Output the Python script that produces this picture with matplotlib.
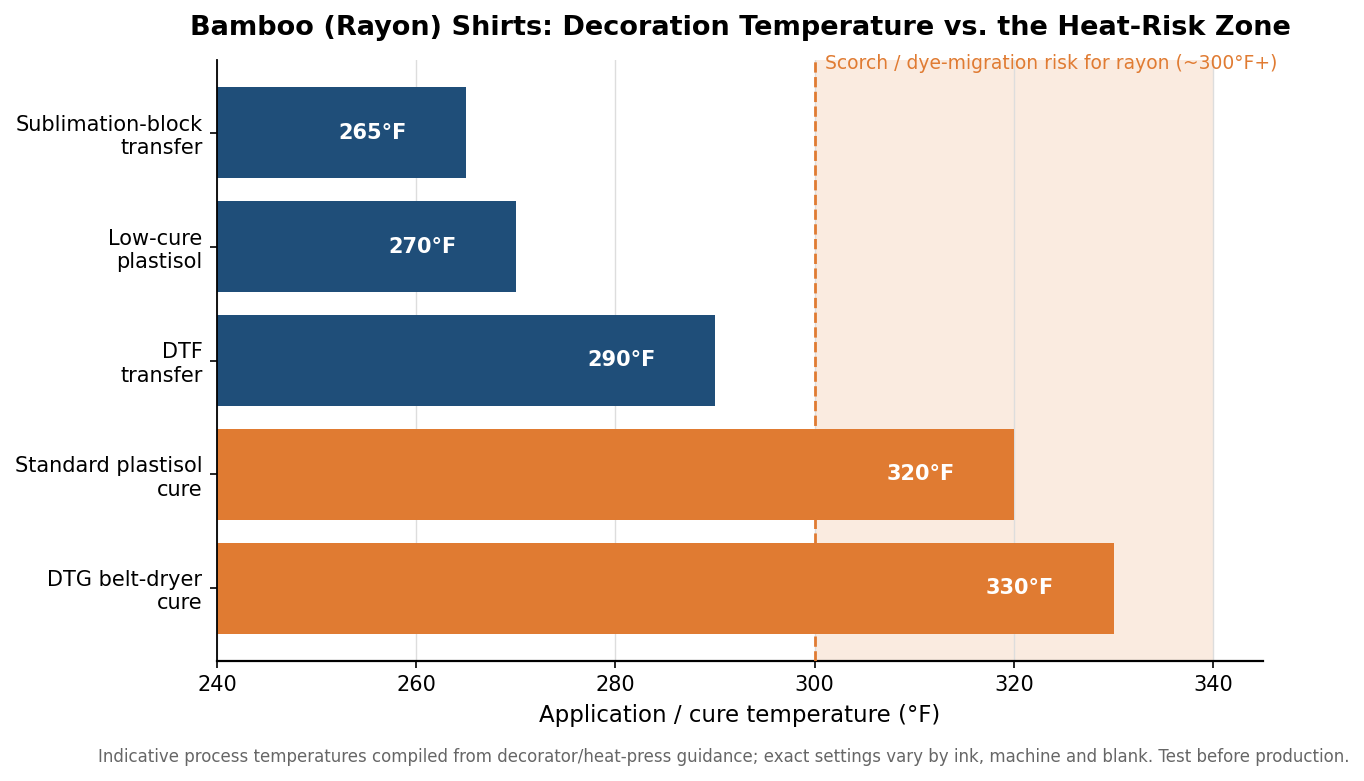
import matplotlib
matplotlib.use("Agg")
import matplotlib.pyplot as plt
import matplotlib.transforms as mtransforms

categories = ["Sublimation-block\ntransfer", "Low-cure\nplastisol", "DTF\ntransfer",
              "Standard plastisol\ncure", "DTG belt-dryer\ncure"]
temps = [265, 270, 290, 320, 330]
risk_threshold = 300
risk_upper = 340
xticks = [240, 260, 280, 300, 320, 340]

blue = "#1f4e79"
orange = "#e07b32"

fig = plt.figure(figsize=(13.64, 7.81), dpi=100)
ax = fig.add_axes([217/1364, 1 - 661/781, (1263-217)/1364, (661-60)/781])

ax.axvspan(risk_threshold, risk_upper, color=orange, alpha=0.15, lw=0, zorder=0)
ax.grid(axis="x", color="#dddddd", lw=1.0, zorder=0.5)
ax.set_axisbelow(True)

colors = [orange if t >= risk_threshold else blue for t in temps]
y = list(range(len(categories)))
ax.barh(y, temps, height=0.8, color=colors, zorder=2)
ax.axvline(risk_threshold, color=orange, ls="--", lw=2, zorder=3)

for yi, t in zip(y, temps):
    ax.text(t - 9.4, yi, f"{t}°F", color="white", fontsize=15, fontweight="bold",
            ha="center", va="center", zorder=4)

ax.set_xlim(240, 345)
ax.set_yticks(y)
ax.set_yticklabels(categories, fontsize=15)
ax.invert_yaxis()
ax.set_xticks(xticks)
ax.tick_params(axis="x", labelsize=15, length=5, width=1.2, pad=5)
ax.tick_params(axis="y", length=5, width=1.2, pad=5.5)
ax.set_xlabel("Application / cure temperature (°F)", fontsize=16.5, labelpad=6.5)
ax.set_title("Bamboo (Rayon) Shirts: Decoration Temperature vs. the Heat-Risk Zone",
             fontsize=19.5, fontweight="bold", pad=18)
for s in ["top", "right"]:
    ax.spines[s].set_visible(False)
ax.spines["left"].set_linewidth(1.3)
ax.spines["bottom"].set_linewidth(1.6)

trans = mtransforms.blended_transform_factory(ax.transData, ax.transAxes)
ax.text(301, 0.995, "Scorch / dye-migration risk for rayon (~300°F+)", transform=trans,
        color=orange, fontsize=13.5, ha="left", va="center", zorder=5)

fig.text(1349/1364, 1 - 757/781,
         "Indicative process temperatures compiled from decorator/heat-press guidance; exact settings vary by ink, machine and blank. Test before production.",
         ha="right", va="center", fontsize=12, color="#666666")

fig.savefig("out.png", dpi=100)
